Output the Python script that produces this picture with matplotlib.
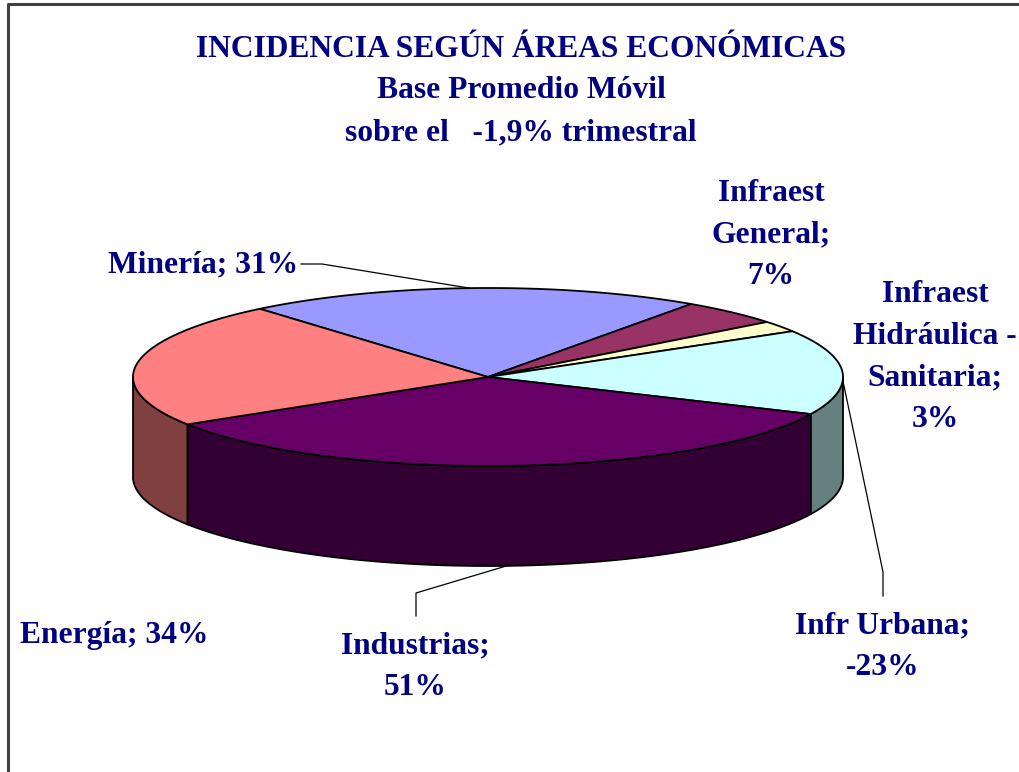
"""Pastel 3D: incidencia según áreas económicas (base promedio móvil)."""

import numpy as np
import matplotlib

matplotlib.use("Agg")
import matplotlib.pyplot as plt  # noqa: E402
from matplotlib.patches import Polygon  # noqa: E402

# Datos
areas = ["Minería", "Infraest General", "Infraest Hidráulica - Sanitaria",
         "Infr Urbana", "Industrias", "Energía"]
incidencia = [31, 7, 3, -23, 51, 34]
colores = ["#9999FF", "#993366", "#FFFFCC", "#CCFFFF", "#660066", "#FF8080"]
etiquetas = ["Minería; 31%", "Infraest\nGeneral;\n7%",
             "Infraest\nHidráulica -\nSanitaria;\n3%", "Infr Urbana;\n-23%",
             "Industrias;\n51%", "Energía; 34%"]
titulo = "INCIDENCIA SEGÚN ÁREAS ECONÓMICAS\nBase Promedio Móvil\nsobre el   -1,9% trimestral"

NAVY = "#000080"
FONT = "Liberation Serif"
CX, CY, A, B, DEPTH = 488, 377, 355, 89, 100
START = 130.0


def top(t):
    r = np.radians(t)
    return CX + A * np.cos(r), CY - B * np.sin(r)


def darker(hex_color):
    c = matplotlib.colors.to_rgb(hex_color)
    return tuple(v * 0.5 for v in c)


fig = plt.figure(figsize=(10.19, 7.72), dpi=100)
ax = fig.add_axes([0, 0, 1, 1])
ax.set_xlim(0, 1019)
ax.set_ylim(772, 0)
ax.axis("off")

# marco
ax.plot([8, 8, 1019], [772, 4, 4], color="#404040", lw=2.2, solid_capstyle="butt")

total = sum(abs(v) for v in incidencia)
bounds = []
t = START
for v in incidencia:
    t2 = t - abs(v) / total * 360
    bounds.append((t2, t))
    t = t2

# paredes frontales
for (t2, t1), col in zip(bounds, colores):
    for k in (-1, 0, 1):
        lo, hi = max(t2, 180 + 360 * k), min(t1, 360 + 360 * k)
        if lo >= hi:
            continue
        ts = np.linspace(lo, hi, 120)
        xs, ys = top(ts)
        pts = np.column_stack([np.r_[xs, xs[::-1]], np.r_[ys, ys[::-1] + DEPTH]])
        ax.add_patch(Polygon(pts, closed=True, facecolor=darker(col),
                             edgecolor="black", lw=1.3, zorder=2))

# caras superiores
for (t2, t1), col in zip(bounds, colores):
    ts = np.linspace(t2, t1, 200)
    xs, ys = top(ts)
    pts = np.column_stack([np.r_[CX, xs], np.r_[CY, ys]])
    ax.add_patch(Polygon(pts, closed=True, facecolor=col,
                         edgecolor="black", lw=1.3, zorder=3))

txt = dict(fontsize=22.7, fontweight="bold", color=NAVY, family=FONT,
           linespacing=1.58)

ax.text(521, 91, titulo, ha="center", va="center", **txt)

# etiquetas
ax.text(298, 265, etiquetas[0], ha="right", va="center", **txt)
ax.text(771, 235, etiquetas[1], ha="center", va="center", **txt)
ax.text(935, 357, etiquetas[2], ha="center", va="center", **txt)
ax.text(883, 647, etiquetas[3], ha="center", va="center", **txt)
ax.text(415, 667, etiquetas[4], ha="center", va="center", **txt)
ax.text(20, 635, etiquetas[5], ha="left", va="center", **txt)

# líneas guía
mx, my = top(93)
ax.plot([301, 322, mx], [264, 264, my], color="black", lw=0.9, zorder=4)
ux, uy = top(-2)
ax.plot([ux, 883, 883], [uy, 572, 596], color="black", lw=0.9, zorder=4)
ix, iy = top(-87)
ax.plot([ix, 416, 416], [iy + DEPTH, 593, 616], color="black", lw=0.9, zorder=4)

fig.savefig("out.png", dpi=100, facecolor="white")
